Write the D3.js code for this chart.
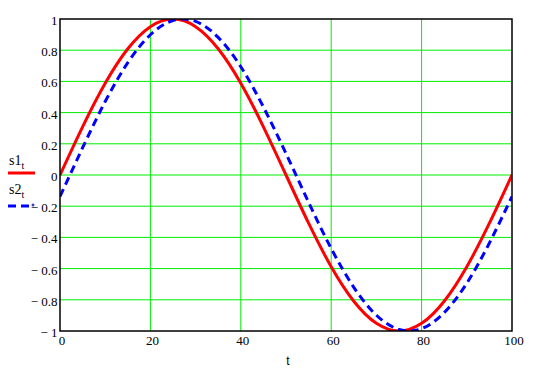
<!DOCTYPE html>
<html>
<head>
<meta charset="utf-8">
<script src="https://cdn.jsdelivr.net/npm/d3@7"></script>
<style>
  body { margin: 0; background: #fff; }
  svg { display: block; }
</style>
</head>
<body>
<div id="chart"></div>
<script>
// Values
var tValues = [0, 5, 10, 15, 20, 25, 30, 35, 40, 45, 50, 55, 60, 65, 70, 75, 80, 85, 90, 95, 100];
var s1Values = [0, 0.309, 0.588, 0.809, 0.951, 1, 0.951, 0.809, 0.588, 0.309, 0,
                -0.309, -0.588, -0.809, -0.951, -1, -0.951, -0.809, -0.588, -0.309, 0];
var s2Values = [-0.138, 0.175, 0.471, 0.720, 0.899, 0.990, 0.985, 0.882, 0.694, 0.436, 0.138,
                -0.175, -0.471, -0.720, -0.899, -0.990, -0.985, -0.882, -0.694, -0.436, -0.138];
var xTicks = [0, 20, 40, 60, 80, 100];
var yTicks = [1, 0.8, 0.6, 0.4, 0.2, 0, -0.2, -0.4, -0.6, -0.8, -1];

var serif = "'Liberation Serif', 'Times New Roman', serif";
var sans = "'Liberation Sans', Arial, sans-serif";

var svgWidth = 535;
var svgHeight = 375;
var margin = { top: 19, right: 23, bottom: 44, left: 60 };
var plotWidth = svgWidth - margin.left - margin.right;
var plotHeight = svgHeight - margin.top - margin.bottom;

var svg = d3.select("#chart")
            .append("svg")
            .attr("width", svgWidth)
            .attr("height", svgHeight);

var x = d3.scaleLinear().domain([0, 100]).range([0, plotWidth]);
var y = d3.scaleLinear().domain([-1, 1]).range([plotHeight, 0]);

var g = svg.append("g")
           .attr("transform", `translate(${margin.left}, ${margin.top})`);

g.append("clipPath")
 .attr("id", "plot-clip")
 .append("rect")
 .attr("width", plotWidth)
 .attr("height", plotHeight);

// Green grid
g.selectAll(".vgrid")
 .data(xTicks.filter(d => d > 0 && d < 100))
 .enter()
 .append("line")
 .attr("x1", d => x(d)).attr("x2", d => x(d))
 .attr("y1", 0).attr("y2", plotHeight)
 .attr("stroke", "#00ee00")
 .attr("stroke-width", 1);

g.selectAll(".hgrid")
 .data(yTicks.filter(d => d > -1 && d < 1))
 .enter()
 .append("line")
 .attr("x1", 0).attr("x2", plotWidth)
 .attr("y1", d => y(d)).attr("y2", d => y(d))
 .attr("stroke", "#00ee00")
 .attr("stroke-width", 1);

// Curves
var s1Data = tValues.map((t, i) => [t, s1Values[i]]);
var s2Data = tValues.map((t, i) => [t, s2Values[i]]);
var line = d3.line()
             .x(d => x(d[0]))
             .y(d => y(d[1]))
             .curve(d3.curveNatural);

var curves = g.append("g").attr("clip-path", "url(#plot-clip)");
curves.append("path")
      .datum(s1Data)
      .attr("d", line)
      .attr("fill", "none")
      .attr("stroke", "#ff0000")
      .attr("stroke-width", 3);

curves.append("path")
      .datum(s2Data)
      .attr("d", line)
      .attr("fill", "none")
      .attr("stroke", "#0000ff")
      .attr("stroke-width", 3)
      .attr("stroke-dasharray", "8,5");

// Frame
g.append("rect")
 .attr("width", plotWidth)
 .attr("height", plotHeight)
 .attr("fill", "none")
 .attr("stroke", "#000")
 .attr("stroke-width", 1.5);

// Tick labels
function fmt(v) {
  return v < 0 ? "\u2212 " + Math.abs(v) : String(v);
}

g.selectAll(".ylab")
 .data(yTicks)
 .enter()
 .append("text")
 .attr("font-family", serif)
 .attr("font-size", "13px")
 .attr("x", -2.5)
 .attr("y", d => y(d) + 6)
 .attr("text-anchor", "end")
 .text(d => fmt(d));

g.selectAll(".xlab")
 .data(xTicks)
 .enter()
 .append("text")
 .attr("font-family", serif)
 .attr("font-size", "13px")
 .attr("x", d => x(d) + 2)
 .attr("y", plotHeight + 14)
 .attr("text-anchor", "middle")
 .text(d => d);

// Axis title
svg.append("text")
   .attr("x", 288)
   .attr("y", 365)
   .attr("text-anchor", "middle")
   .attr("font-family", sans)
   .attr("font-size", "12px")
   .text("t");

// Legend
var legend = svg.append("g");
var legendItems = [
  { name: "s1", y: 165, lineY: 173, color: "#ff0000", dash: null },
  { name: "s2", y: 194, lineY: 206, color: "#0000ff", dash: "8,5" }
];
legendItems.forEach(item => {
  var t = legend.append("text")
                .attr("x", 9)
                .attr("y", item.y)
                .attr("font-family", serif)
                .attr("font-size", "14px")
                .text(item.name);
  t.append("tspan")
   .attr("dy", 4)
   .attr("font-size", "10px")
   .text("t");
  legend.append("line")
        .attr("x1", 8).attr("x2", item.dash ? 30 : 35)
        .attr("y1", item.lineY).attr("y2", item.lineY)
        .attr("stroke", item.color)
        .attr("stroke-width", 3)
        .attr("stroke-dasharray", item.dash);
});
// small marker symbol after the dashed legend line
legend.append("path")
      .attr("d", "M31.5,205 h3 M33,203.5 v3")
      .attr("stroke", "#0000aa")
      .attr("stroke-width", 1);
</script>
</body>
</html>
